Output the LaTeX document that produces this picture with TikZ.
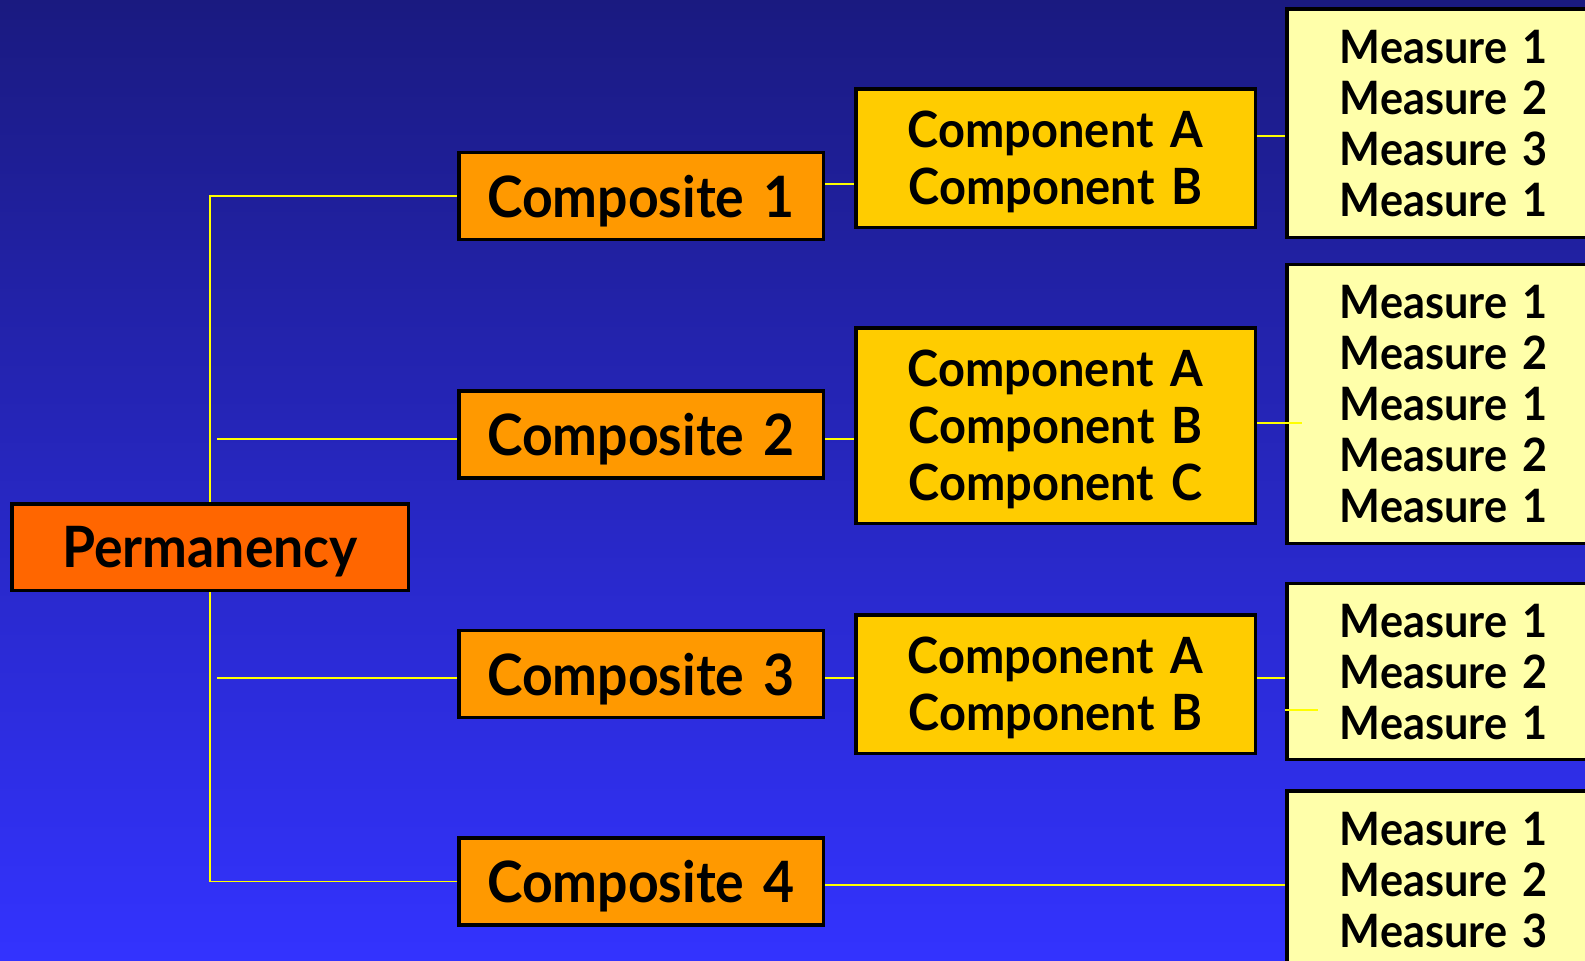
\documentclass[tikz,border=0pt]{standalone}
\usepackage{fontspec}
\setmainfont{Lato}[FakeStretch=0.94,WordSpace=1.5]
\definecolor{bgtop}{RGB}{26,26,128}
\definecolor{bgbot}{RGB}{51,51,255}
\definecolor{permfill}{RGB}{255,102,0}
\definecolor{compfill}{RGB}{255,153,0}
\definecolor{kompfill}{RGB}{255,204,0}
\definecolor{measfill}{RGB}{255,255,170}
\definecolor{connyellow}{RGB}{255,255,0}
\begin{document}
\begin{tikzpicture}[x=1pt,y=-1pt,
  box/.style={draw=black,line width=3.5pt,inner sep=0pt,align=center,text depth=0pt},
  permbox/.style={box,fill=permfill,minimum width=396.5pt,minimum height=86.5pt,font=\fontsize{57}{68}\selectfont\bfseries},
  compbox/.style={box,fill=compfill,minimum width=364.5pt,minimum height=87pt,font=\fontsize{57}{68}\selectfont\bfseries},
  kompbox/.style={box,fill=kompfill,minimum width=399.5pt,font=\fontsize{50}{57}\selectfont\bfseries},
  measbox/.style={box,fill=measfill,minimum width=314.5pt,font=\fontsize{46}{51}\selectfont\bfseries},
  conn/.style={draw=connyellow,line width=1.6pt}]
\useasboundingbox (0,0) rectangle (1585,961);
\clip (0,0) rectangle (1585,961);
\shade[top color=bgtop,bottom color=bgbot] (0,0) rectangle (1585,961);

\node[permbox] (perm) at (210,547) {Permanency};
\node[compbox] (c1) at (641,196) {Composite 1};
\node[compbox] (c2) at (641,434.7) {Composite 2};
\node[compbox] (c3) at (641,674) {Composite 3};
\node[compbox] (c4) at (641,881.4) {Composite 4};

\node[kompbox,minimum height=138.2pt] (k1) at (1055.5,158.2) {Component A\\Component B};
\node[kompbox,minimum height=195.5pt] (k2) at (1055.5,425.5) {Component A\\Component B\\Component C};
\node[kompbox,minimum height=138.2pt] (k3) at (1055.5,684.2) {Component A\\Component B};

\node[measbox,minimum height=228.2pt] (m1) at (1444,123.2) {Measure 1\\Measure 2\\Measure 3\\Measure 1};
\node[measbox,minimum height=278.8pt] (m2) at (1444,403.9) {Measure 1\\Measure 2\\Measure 1\\Measure 2\\Measure 1};
\node[measbox,minimum height=175.8pt] (m3) at (1444,671.4) {Measure 1\\Measure 2\\Measure 1};
\node[measbox,minimum height=178.2pt] (m4) at (1444,880.2) {Measure 1\\Measure 2\\Measure 3};

\draw[conn] (perm.north) -- (perm.north |- c1.west) -- (c1.west);
\draw[conn] (perm.south) -- (perm.south |- c4.west) -- (c4.west);
\draw[conn] ([xshift=7pt]perm.north |- 0,439) -- (c2.west |- 0,439);
\draw[conn] ([xshift=7pt]perm.north |- 0,678) -- (c3.west |- 0,678);

\draw[conn] (c1.east |- 0,184) -- (k1.west |- 0,184);
\draw[conn] (c2.east |- 0,439) -- (k2.west |- 0,439);
\draw[conn] (c3.east |- 0,678) -- (k3.west |- 0,678);
\draw[conn] (c4.east |- 0,885) -- (m4.west |- 0,885);

\draw[conn] (k1.east |- 0,136) -- (m1.west |- 0,136);
\draw[conn] (k2.east |- 0,423) -- ([xshift=17pt]m2.west |- 0,423);
\draw[conn] (k3.east |- 0,678) -- (m3.west |- 0,678);
\coordinate (stray) at ([xshift=33pt]m3.west |- 0,710);
\draw[conn] (m3.west |- 0,710) -- (stray);
\end{tikzpicture}
\end{document}
